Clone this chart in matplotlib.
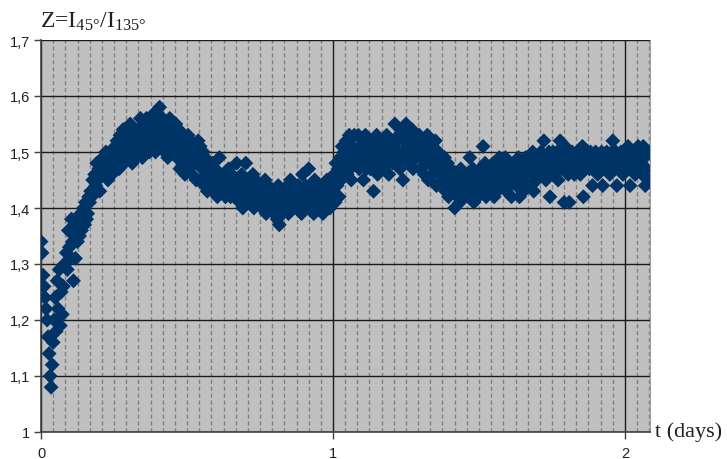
import numpy as np
import matplotlib
matplotlib.use("Agg")
import matplotlib.pyplot as plt
from matplotlib.ticker import FixedLocator, FuncFormatter, MultipleLocator

# Ratio Z = I45/I135, sampled every 5 minutes; one row per hour of measurement
z_hourly = [
    [1.34, 1.32, 1.28, 1.26, 1.24, 1.22, 1.20, 1.17, 1.14, 1.10, 1.08, 1.12],
    [1.16, 1.20, 1.24, 1.18, 1.27, 1.22, 1.29, 1.19, 1.25, 1.21, 1.26, 1.30],
    [1.30, 1.32, 1.29, 1.36, 1.33, 1.31, 1.38, 1.34, 1.27, 1.35, 1.31, 1.37],
    [1.34, 1.37, 1.35, 1.39, 1.36, 1.38, 1.40, 1.37, 1.41, 1.38, 1.39, 1.42],
    [1.41, 1.43, 1.42, 1.45, 1.43, 1.46, 1.44, 1.48, 1.45, 1.47, 1.43, 1.46],
    [1.47, 1.49, 1.46, 1.48, 1.50, 1.47, 1.45, 1.49, 1.48, 1.50, 1.46, 1.48],
    [1.49, 1.51, 1.48, 1.52, 1.50, 1.47, 1.53, 1.49, 1.51, 1.54, 1.48, 1.50],
    [1.50, 1.53, 1.49, 1.52, 1.55, 1.51, 1.48, 1.54, 1.50, 1.53, 1.49, 1.52],
    [1.51, 1.54, 1.56, 1.52, 1.49, 1.55, 1.53, 1.50, 1.56, 1.52, 1.54, 1.50],
    [1.53, 1.56, 1.51, 1.55, 1.57, 1.50, 1.54, 1.56, 1.52, 1.58, 1.55, 1.51],
    [1.56, 1.53, 1.50, 1.55, 1.52, 1.49, 1.54, 1.56, 1.51, 1.53, 1.55, 1.50],
    [1.52, 1.55, 1.49, 1.51, 1.54, 1.47, 1.50, 1.53, 1.48, 1.52, 1.46, 1.51],
    [1.50, 1.53, 1.47, 1.49, 1.52, 1.46, 1.51, 1.48, 1.50, 1.45, 1.49, 1.52],
    [1.48, 1.51, 1.45, 1.47, 1.50, 1.44, 1.49, 1.46, 1.43, 1.48, 1.45, 1.47],
    [1.46, 1.48, 1.43, 1.45, 1.47, 1.44, 1.42, 1.46, 1.49, 1.44, 1.43, 1.45],
    [1.44, 1.46, 1.42, 1.45, 1.43, 1.47, 1.44, 1.42, 1.46, 1.43, 1.45, 1.42],
    [1.44, 1.48, 1.42, 1.45, 1.41, 1.43, 1.46, 1.40, 1.44, 1.42, 1.48, 1.45],
    [1.43, 1.45, 1.41, 1.44, 1.42, 1.46, 1.40, 1.43, 1.45, 1.41, 1.44, 1.42],
    [1.42, 1.44, 1.40, 1.43, 1.41, 1.45, 1.39, 1.42, 1.44, 1.40, 1.43, 1.41],
    [1.41, 1.43, 1.39, 1.42, 1.40, 1.38, 1.44, 1.37, 1.41, 1.43, 1.39, 1.42],
    [1.40, 1.43, 1.41, 1.44, 1.39, 1.42, 1.45, 1.40, 1.43, 1.41, 1.44, 1.42],
    [1.42, 1.40, 1.44, 1.41, 1.43, 1.39, 1.46, 1.42, 1.40, 1.44, 1.41, 1.43],
    [1.47, 1.43, 1.40, 1.44, 1.42, 1.39, 1.45, 1.41, 1.43, 1.40, 1.44, 1.42],
    [1.41, 1.43, 1.39, 1.44, 1.42, 1.40, 1.45, 1.41, 1.43, 1.40, 1.42, 1.44],
    [1.43, 1.46, 1.41, 1.48, 1.44, 1.47, 1.42, 1.49, 1.45, 1.51, 1.47, 1.50],
    [1.48, 1.52, 1.46, 1.50, 1.53, 1.47, 1.45, 1.51, 1.49, 1.53, 1.48, 1.50],
    [1.49, 1.53, 1.47, 1.51, 1.48, 1.52, 1.45, 1.50, 1.53, 1.47, 1.49, 1.51],
    [1.50, 1.47, 1.52, 1.48, 1.43, 1.51, 1.49, 1.53, 1.46, 1.50, 1.48, 1.52],
    [1.49, 1.52, 1.47, 1.51, 1.48, 1.53, 1.50, 1.46, 1.52, 1.49, 1.51, 1.48],
    [1.51, 1.55, 1.48, 1.52, 1.50, 1.53, 1.47, 1.54, 1.49, 1.45, 1.52, 1.50],
    [1.55, 1.51, 1.53, 1.48, 1.52, 1.50, 1.54, 1.47, 1.51, 1.53, 1.49, 1.52],
    [1.50, 1.53, 1.47, 1.51, 1.49, 1.52, 1.46, 1.50, 1.48, 1.53, 1.45, 1.51],
    [1.49, 1.51, 1.46, 1.50, 1.47, 1.52, 1.44, 1.48, 1.50, 1.46, 1.49, 1.47],
    [1.47, 1.45, 1.49, 1.43, 1.46, 1.48, 1.42, 1.45, 1.47, 1.44, 1.46, 1.43],
    [1.40, 1.44, 1.46, 1.42, 1.45, 1.41, 1.47, 1.43, 1.45, 1.42, 1.46, 1.44],
    [1.44, 1.46, 1.42, 1.49, 1.45, 1.43, 1.47, 1.41, 1.45, 1.44, 1.46, 1.42],
    [1.45, 1.47, 1.43, 1.46, 1.51, 1.44, 1.48, 1.42, 1.46, 1.45, 1.47, 1.43],
    [1.46, 1.44, 1.48, 1.42, 1.45, 1.47, 1.43, 1.46, 1.49, 1.44, 1.47, 1.45],
    [1.47, 1.45, 1.49, 1.43, 1.46, 1.48, 1.44, 1.47, 1.42, 1.46, 1.48, 1.45],
    [1.48, 1.44, 1.46, 1.49, 1.42, 1.47, 1.45, 1.48, 1.43, 1.46, 1.49, 1.44],
    [1.47, 1.49, 1.44, 1.48, 1.46, 1.50, 1.43, 1.47, 1.49, 1.45, 1.48, 1.46],
    [1.48, 1.50, 1.46, 1.49, 1.52, 1.47, 1.45, 1.49, 1.48, 1.50, 1.42, 1.47],
    [1.48, 1.50, 1.46, 1.49, 1.47, 1.50, 1.45, 1.48, 1.52, 1.49, 1.47, 1.50],
    [1.41, 1.51, 1.48, 1.50, 1.46, 1.41, 1.49, 1.47, 1.50, 1.48, 1.46, 1.49],
    [1.48, 1.50, 1.47, 1.49, 1.46, 1.48, 1.51, 1.42, 1.50, 1.47, 1.49, 1.48],
    [1.49, 1.47, 1.50, 1.48, 1.44, 1.49, 1.47, 1.50, 1.48, 1.46, 1.49, 1.47],
    [1.48, 1.50, 1.44, 1.47, 1.49, 1.48, 1.50, 1.47, 1.49, 1.46, 1.48, 1.50],
    [1.52, 1.49, 1.47, 1.50, 1.44, 1.48, 1.49, 1.47, 1.50, 1.48, 1.46, 1.49],
    [1.48, 1.50, 1.47, 1.51, 1.49, 1.44, 1.48, 1.50, 1.47, 1.49, 1.46, 1.50],
    [1.49, 1.51, 1.47, 1.50, 1.48, 1.46, 1.51, 1.49, 1.44, 1.47, 1.50, 1.45],
]
sample_minutes = 5

x_ticks = [0, 1, 2]
y_ticks = [1.0, 1.1, 1.2, 1.3, 1.4, 1.5, 1.6, 1.7]

z = np.array(z_hourly).ravel()
t_days = np.arange(z.size) * sample_minutes / (24 * 60)

plt.rcParams["mathtext.fontset"] = "custom"
plt.rcParams["mathtext.rm"] = "Liberation Serif"
plt.rcParams["mathtext.it"] = "Liberation Serif"

fig = plt.figure(figsize=(7.27, 4.60), dpi=100)
ax = fig.add_axes([41 / 727, 1 - 433 / 460, (650 - 41) / 727, (433 - 41) / 460])
ax.set_facecolor("#c0c0c0")

ax.set_xlim(0, 609 / 292)
ax.set_ylim(1.0, 1.7)

# hourly dashed grid, daily and 0.1 solid grid
ax.xaxis.set_minor_locator(MultipleLocator(1 / 24))
ax.xaxis.set_major_locator(FixedLocator(x_ticks))
ax.yaxis.set_major_locator(FixedLocator(y_ticks))
ax.grid(which="minor", axis="x", color="#808080", linestyle=(0, (3, 2)), linewidth=1.0)
ax.grid(which="major", axis="both", color="#1a1a1a", linestyle="-", linewidth=1.0)
ax.set_axisbelow(True)

ax.scatter(t_days, z, marker="D", s=58, color="#003366", edgecolors="none", zorder=3)

fmt = FuncFormatter(lambda v, pos: (f"{v:.1f}".rstrip("0").rstrip(".")).replace(".", ","))
ax.yaxis.set_major_formatter(fmt)
ax.xaxis.set_major_formatter(FuncFormatter(lambda v, pos: f"{v:g}"))

for lab in ax.get_xticklabels() + ax.get_yticklabels():
    lab.set_fontfamily("Liberation Sans")
ax.tick_params(axis="both", which="major", labelsize=10.5, length=5, width=1.0,
               color="#404040", labelcolor="#202020", direction="out")
ax.tick_params(axis="x", which="minor", length=0)
ax.tick_params(axis="x", pad=5)
ax.tick_params(axis="y", pad=3)

for side in ("left", "bottom"):
    ax.spines[side].set_color("#404040")
    ax.spines[side].set_linewidth(1.2)
ax.spines["top"].set_visible(False)
ax.spines["right"].set_color("#a0a0a0")
ax.spines["right"].set_linewidth(0.8)

fig.text(40 / 727, 1 - 28 / 460, r"Z=I$_{\mathrm{45°}}$/I$_{\mathrm{135°}}$",
         fontfamily="Liberation Serif", fontsize=17, color="#202020", va="baseline")
fig.text(655 / 727, 1 - 437 / 460, "t (days)", fontfamily="Liberation Serif",
         fontsize=16, color="#202020", va="baseline")

fig.savefig("out.png", dpi=100)
